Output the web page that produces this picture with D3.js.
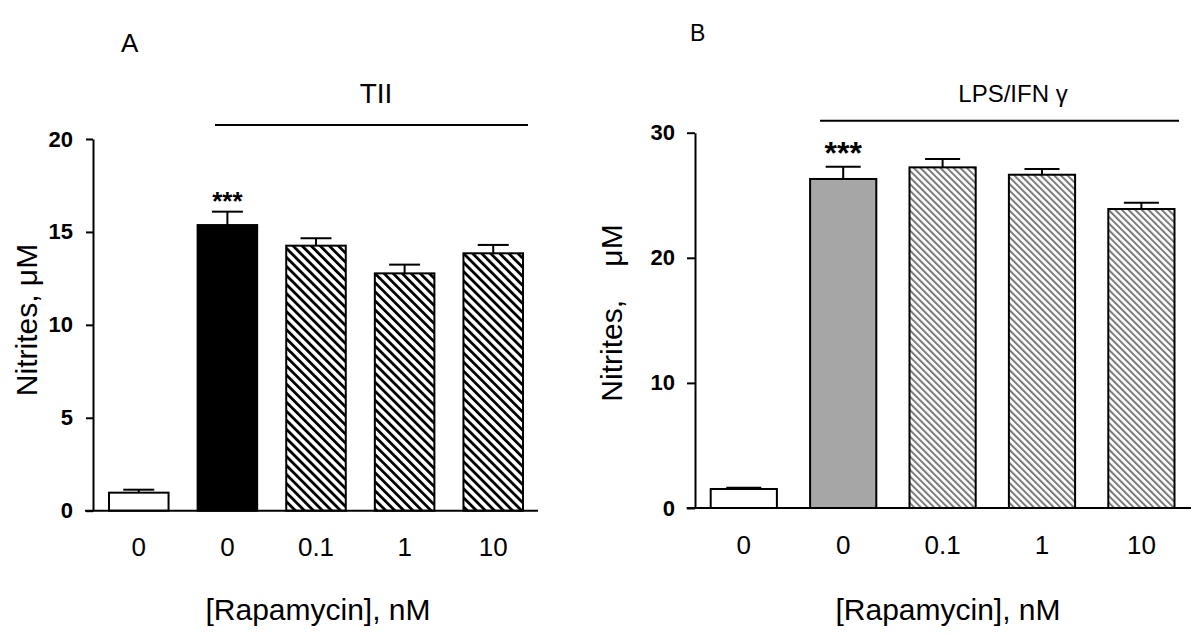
<!DOCTYPE html>
<html>
<head>
<meta charset="utf-8">
<script src="https://cdnjs.cloudflare.com/ajax/libs/d3/7.8.5/d3.min.js"></script>
<style>
  html, body { margin: 0; padding: 0; background: #fff; }
  svg { display: block; }
  text { font-family: "Liberation Sans", Arial, Helvetica, sans-serif; }
</style>
</head>
<body>
<svg id="chart" width="1200" height="639"></svg>
<script>
// ---------------- data ----------------
const categories = ["0", "0", "0.1", "1", "10"];
const valuesA = [0.97, 15.37, 14.26, 12.77, 13.85];
const errorsA = [0.16, 0.72, 0.40, 0.47, 0.45];
const valuesB = [1.52, 26.3, 27.23, 26.64, 23.9];
const errorsB = [0.10, 0.98, 0.67, 0.46, 0.50];
const yTicksA = [0, 5, 10, 15, 20];
const yTicksB = [0, 10, 20, 30];
const panelLabels = ["A", "B"];
const treatmentLabels = ["TII", "LPS/IFN \u03B3"];
const xTitle = "[Rapamycin], nM";
const yTitleA = "Nitrites, \u03BCM";
const yTitleB = "Nitrites,    \u03BCM";
const sigLabel = "***";
const sigIndex = 1;

// ---------------- styles ----------------
const fillsA = ["#ffffff", "#000000", "url(#hatchA)", "url(#hatchA)", "url(#hatchA)"];
const fillsB = ["#ffffff", "#a6a6a6", "url(#hatchB)", "url(#hatchB)", "url(#hatchB)"];

const svg = d3.select("#chart");
const defs = svg.append("defs");

// hatch A: black "\" stripes
const pA = defs.append("pattern").attr("id", "hatchA")
  .attr("patternUnits", "userSpaceOnUse")
  .attr("width", 6.4).attr("height", 6.4)
  .attr("patternTransform", "rotate(-45)");
pA.append("rect").attr("width", 6.4).attr("height", 6.4).attr("fill", "#fff");
pA.append("rect").attr("x", 0).attr("width", 2.8).attr("height", 6.4).attr("fill", "#000");

// hatch B: gray "\" stripes
const pB = defs.append("pattern").attr("id", "hatchB")
  .attr("patternUnits", "userSpaceOnUse")
  .attr("width", 4.7).attr("height", 4.7)
  .attr("patternTransform", "rotate(-45)");
pB.append("rect").attr("width", 4.7).attr("height", 4.7).attr("fill", "#fff");
pB.append("rect").attr("x", 0).attr("width", 2.0).attr("height", 4.7).attr("fill", "#7a7a7a");

function panel(cfg) {
  const g = svg.append("g");
  const x = d3.scaleBand().domain(d3.range(categories.length))
    .range(cfg.xRange).paddingInner(cfg.padInner).paddingOuter(0);
  const y = d3.scaleLinear().domain([0, cfg.yMax]).range([cfg.yBase, cfg.yTop]);

  // y axis
  const ya = g.append("g").attr("transform", `translate(${cfg.axisX},0)`)
    .call(d3.axisLeft(y).tickValues(cfg.ticks).tickSize(cfg.tickLen).tickSizeOuter(0).tickPadding(cfg.tickPad));
  ya.select(".domain").attr("stroke", "#000").attr("stroke-width", 2);
  ya.selectAll(".tick line").attr("stroke", "#000").attr("stroke-width", 2);
  ya.selectAll(".tick text").attr("font-size", cfg.tickFont).attr("font-weight", "bold")
    .attr("fill", "#000").style("font-family", '"Liberation Sans", Arial, sans-serif');

  // bars
  g.selectAll("rect.bar").data(cfg.values).enter().append("rect")
    .attr("class", "bar")
    .attr("x", (d, i) => x(i))
    .attr("y", d => y(d))
    .attr("width", x.bandwidth())
    .attr("height", d => y(0) - y(d))
    .attr("fill", (d, i) => cfg.fills[i])
    .attr("stroke", "#000").attr("stroke-width", 2);

  // error bars
  const eb = g.selectAll("g.err").data(cfg.values).enter().append("g").attr("class", "err");
  eb.append("line")
    .attr("x1", (d, i) => x(i) + x.bandwidth() / 2)
    .attr("x2", (d, i) => x(i) + x.bandwidth() / 2)
    .attr("y1", d => y(d))
    .attr("y2", (d, i) => y(d + cfg.errors[i]))
    .attr("stroke", "#000").attr("stroke-width", 2);
  eb.append("line")
    .attr("x1", (d, i) => x(i) + x.bandwidth() / 2 - cfg.capHalf)
    .attr("x2", (d, i) => x(i) + x.bandwidth() / 2 + cfg.capHalf)
    .attr("y1", (d, i) => y(d + cfg.errors[i]))
    .attr("y2", (d, i) => y(d + cfg.errors[i]))
    .attr("stroke", "#000").attr("stroke-width", 2);

  // x baseline
  g.append("line").attr("x1", cfg.baseX0).attr("x2", cfg.baseX1)
    .attr("y1", y(0)).attr("y2", y(0)).attr("stroke", "#000").attr("stroke-width", 2);

  // x axis labels
  const xa = g.append("g").attr("transform", `translate(0,${y(0)})`)
    .call(d3.axisBottom(x).tickSize(0).tickPadding(cfg.xPad).tickFormat(i => categories[i]));
  xa.select(".domain").remove();
  xa.selectAll(".tick text").attr("font-size", cfg.xFont).attr("fill", "#000")
    .style("font-family", '"Liberation Sans", Arial, sans-serif');

  // significance
  g.append("text")
    .attr("x", x(sigIndex) + x.bandwidth() / 2)
    .attr("y", y(cfg.values[sigIndex] + cfg.errors[sigIndex]) + cfg.sigDy)
    .attr("text-anchor", "middle").attr("font-size", cfg.sigFont).attr("font-weight", "bold")
    .text(sigLabel);

  // treatment line + label
  g.append("line").attr("x1", cfg.trX0).attr("x2", cfg.trX1)
    .attr("y1", cfg.trY).attr("y2", cfg.trY).attr("stroke", "#000").attr("stroke-width", 2);
  g.append("text").attr("x", cfg.trLabelX).attr("y", cfg.trLabelY)
    .attr("text-anchor", "middle").attr("font-size", cfg.trFont).text(cfg.trLabel);

  // panel letter
  g.append("text").attr("x", cfg.letterX).attr("y", cfg.letterY)
    .attr("font-size", cfg.letterFont).text(cfg.letter);

  // axis titles
  g.append("text").attr("x", cfg.xTitleX).attr("y", cfg.xTitleY)
    .attr("text-anchor", "middle").attr("font-size", cfg.titleFont).text(xTitle);
  g.append("text")
    .attr("transform", `translate(${cfg.yTitleX},${cfg.yTitleY}) rotate(-90)`)
    .attr("text-anchor", "middle").attr("font-size", cfg.titleFont)
    .attr("xml:space", "preserve").style("white-space", "pre")
    .text(cfg.yTitle);
}

panel({
  values: valuesA, errors: errorsA, fills: fillsA, ticks: yTicksA, yMax: 20,
  xRange: [109, 523], padInner: 0.328, yBase: 510.7, yTop: 139,
  axisX: 93, tickLen: 7, tickPad: 13, tickFont: 22,
  capHalf: 15.5, baseX0: 85, baseX1: 538, xPad: 27, xFont: 26,
  sigDy: -2, sigFont: 26,
  trX0: 215, trX1: 528, trY: 125, trLabel: treatmentLabels[0], trLabelX: 376, trLabelY: 103, trFont: 28,
  letter: panelLabels[0], letterX: 121, letterY: 52, letterFont: 26,
  xTitleX: 318, xTitleY: 620, titleFont: 30,
  yTitle: yTitleA, yTitleX: 37, yTitleY: 320
});

panel({
  values: valuesB, errors: errorsB, fills: fillsB, ticks: yTicksB, yMax: 30,
  xRange: [710.7, 1174.5], padInner: 0.334, yBase: 508, yTop: 132.7,
  axisX: 695, tickLen: 8, tickPad: 12, tickFont: 22,
  capHalf: 17.5, baseX0: 686.7, baseX1: 1191, xPad: 28, xFont: 26,
  sigDy: -3, sigFont: 32,
  trX0: 820, trX1: 1179, trY: 120.7, trLabel: treatmentLabels[1], trLabelX: 1013, trLabelY: 102, trFont: 24,
  letter: panelLabels[1], letterX: 690, letterY: 41, letterFont: 23,
  xTitleX: 948, xTitleY: 620, titleFont: 30,
  yTitle: yTitleB, yTitleX: 622, yTitleY: 313
});
</script>
</body>
</html>
